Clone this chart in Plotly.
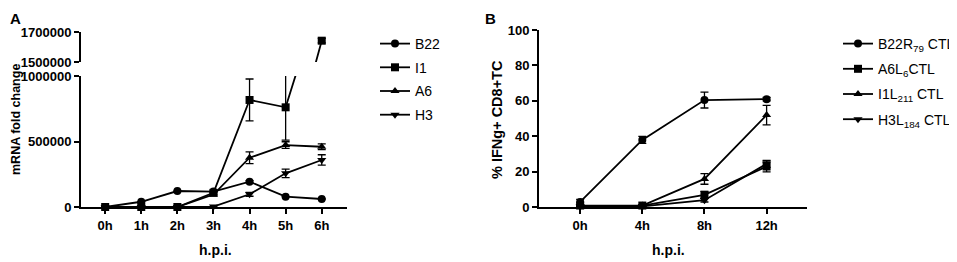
import plotly.graph_objects as go

# ---------------- data ----------------
hours_a = [0, 1, 2, 3, 4, 5, 6]
ticks_a = ["0h", "1h", "2h", "3h", "4h", "5h", "6h"]
b22 = [0, 40000, 122000, 118000, 193000, 79000, 61000]
b22_err = [0, 0, 0, 0, 9000, 0, 0]
i1 = [0, 0, 0, 108000, 817000, 761000, 1642000]
i1_err = [0, 0, 0, 0, 160000, 250000, 15000]
a6 = [0, 0, 0, 95000, 376000, 473000, 460000]
a6_err = [0, 0, 0, 0, 45000, 25000, 22000]
h3 = [0, 0, 0, 3000, 97000, 257000, 359000]
h3_err = [0, 0, 0, 0, 15000, 32000, 40000]

hours_b = [0, 4, 8, 12]
ticks_b = ["0h", "4h", "8h", "12h"]
b22r79 = [3, 38, 60.5, 61]
b22r79_err = [1.5, 2, 4.5, 1]
a6l6 = [1, 1, 7, 23]
a6l6_err = [0.5, 0.5, 2, 3]
i1l211 = [0.5, 1, 16, 52]
i1l211_err = [0.5, 0.5, 3, 5.5]
h3l184 = [0.5, 0.5, 4, 24.5]
h3l184_err = [0.3, 0.3, 1, 2]

names_a = ["B22", "I1", "A6", "H3"]
names_b = ["B22R<sub>79</sub> CTL", "A6L<sub>6</sub>CTL", "I1L<sub>211</sub> CTL", "H3L<sub>184</sub> CTL"]
symbols = ["circle", "square", "triangle-up", "triangle-down"]

# the page places the figure 8px in from the top-left corner
OFF = 8
W, H = 957 - OFF, 262 - OFF
FONT = "Arial, Liberation Sans, sans-serif"


def px_x(p):
    return (p - OFF) / W


def px_y(p):
    return (H - (p - OFF)) / H


fig = go.Figure()

series_a = [(b22, b22_err), (i1, i1_err), (a6, a6_err), (h3, h3_err)]
for k, (vals, err) in enumerate(series_a):
    for ax in ["y", "y2"]:
        fig.add_trace(go.Scatter(
            x=hours_a, y=vals, xaxis="x", yaxis=ax, mode="lines+markers",
            name=names_a[k], legend="legend", legendgroup="a%d" % k,
            showlegend=(ax == "y"),
            line=dict(color="black", width=1.8),
            marker=dict(symbol=symbols[k], size=8, color="black"),
            cliponaxis=(ax == "y2"),
        ))
        fig.add_trace(go.Scatter(
            x=hours_a, y=vals, xaxis="x", yaxis=ax, mode="markers",
            showlegend=False, hoverinfo="skip",
            marker=dict(size=1, color="rgba(0,0,0,0)"),
            error_y=dict(type="data", array=err, visible=True, color="black",
                         thickness=1.3, width=4),
            cliponaxis=True,
        ))

series_b = [(b22r79, b22r79_err), (a6l6, a6l6_err), (i1l211, i1l211_err), (h3l184, h3l184_err)]
for k, (vals, err) in enumerate(series_b):
    fig.add_trace(go.Scatter(
        x=hours_b, y=vals, xaxis="x2", yaxis="y3", mode="lines+markers",
        name=names_b[k], legend="legend2", legendgroup="b%d" % k,
        line=dict(color="black", width=1.8),
        marker=dict(symbol=symbols[k], size=8, color="black"),
        error_y=dict(type="data", array=err, visible=True, color="black",
                     thickness=1.3, width=4),
        cliponaxis=False,
    ))

axis_common = dict(showline=True, linecolor="black", linewidth=2, ticks="outside",
                   tickcolor="black", tickwidth=2, ticklen=5, showgrid=False,
                   zeroline=False, automargin=False,
                   tickfont=dict(family=FONT, size=13, color="black", weight="bold"))

fig.update_layout(
    width=W, height=H, margin=dict(l=0, r=0, t=0, b=0, autoexpand=False),
    plot_bgcolor="white", paper_bgcolor="white",
    font=dict(family=FONT, color="black"),
    xaxis=dict(domain=[px_x(81), px_x(347)], range=[-0.67, 6.7], anchor="y",
               tickvals=hours_a, ticktext=ticks_a, **axis_common),
    yaxis=dict(domain=[px_y(207), px_y(76)], range=[0, 1000000], anchor="x",
               tickvals=[0, 500000, 1000000], ticktext=["0", "500000", "1000000"],
               **axis_common),
    yaxis2=dict(domain=[px_y(62), px_y(32)], range=[1500000, 1700000], anchor="x",
                tickvals=[1500000, 1700000], ticktext=["1500000", "1700000"],
                **axis_common),
    xaxis2=dict(domain=[px_x(539), px_x(807)], range=[-2.65, 14.6], anchor="y3",
                tickvals=hours_b, ticktext=ticks_b, **axis_common),
    yaxis3=dict(domain=[px_y(207.3), px_y(30)], range=[0, 100], anchor="x2",
                tickvals=[0, 20, 40, 60, 80, 100], **axis_common),
    legend=dict(x=px_x(375), xanchor="left", y=px_y(28), yanchor="top",
                xref="container", yref="container",
                bgcolor="rgba(0,0,0,0)", font=dict(family=FONT, size=14, color="black"),
                tracegroupgap=2.5, itemwidth=30),
    legend2=dict(x=px_x(838), xanchor="left", y=px_y(28), yanchor="top",
                 xref="container", yref="container",
                 bgcolor="rgba(0,0,0,0)", font=dict(family=FONT, size=14, color="black"),
                 tracegroupgap=4, itemwidth=30),
)

ann = [
    dict(text="<b>A</b>", x=px_x(8), y=px_y(8), xanchor="left", yanchor="top", size=15),
    dict(text="<b>B</b>", x=px_x(483), y=px_y(8), xanchor="left", yanchor="top", size=15),
    dict(text="<b>h.p.i.</b>", x=px_x(215), y=px_y(250), xanchor="center", yanchor="middle", size=14),
    dict(text="<b>h.p.i.</b>", x=px_x(668), y=px_y(250), xanchor="center", yanchor="middle", size=14),
]
for a in ann:
    fig.add_annotation(text=a["text"], x=a["x"], y=a["y"], xref="paper", yref="paper",
                       xanchor=a["xanchor"], yanchor=a["yanchor"], showarrow=False,
                       font=dict(family=FONT, size=a["size"], color="black"))

fig.add_annotation(text="<b>mRNA fold change</b>", x=px_x(8), y=px_y(120), xref="paper",
                   yref="paper", textangle=-90, showarrow=False, xanchor="left",
                   yanchor="middle", borderpad=0,
                   font=dict(family=FONT, size=12.5, color="black"))
fig.add_annotation(text="<b>% IFNg+ CD8+TC</b>", x=px_x(497), y=px_y(120), xref="paper",
                   yref="paper", textangle=-90, showarrow=False, xanchor="center",
                   yanchor="middle", font=dict(family=FONT, size=14.5, color="black"))

fig.write_html("out.html")
